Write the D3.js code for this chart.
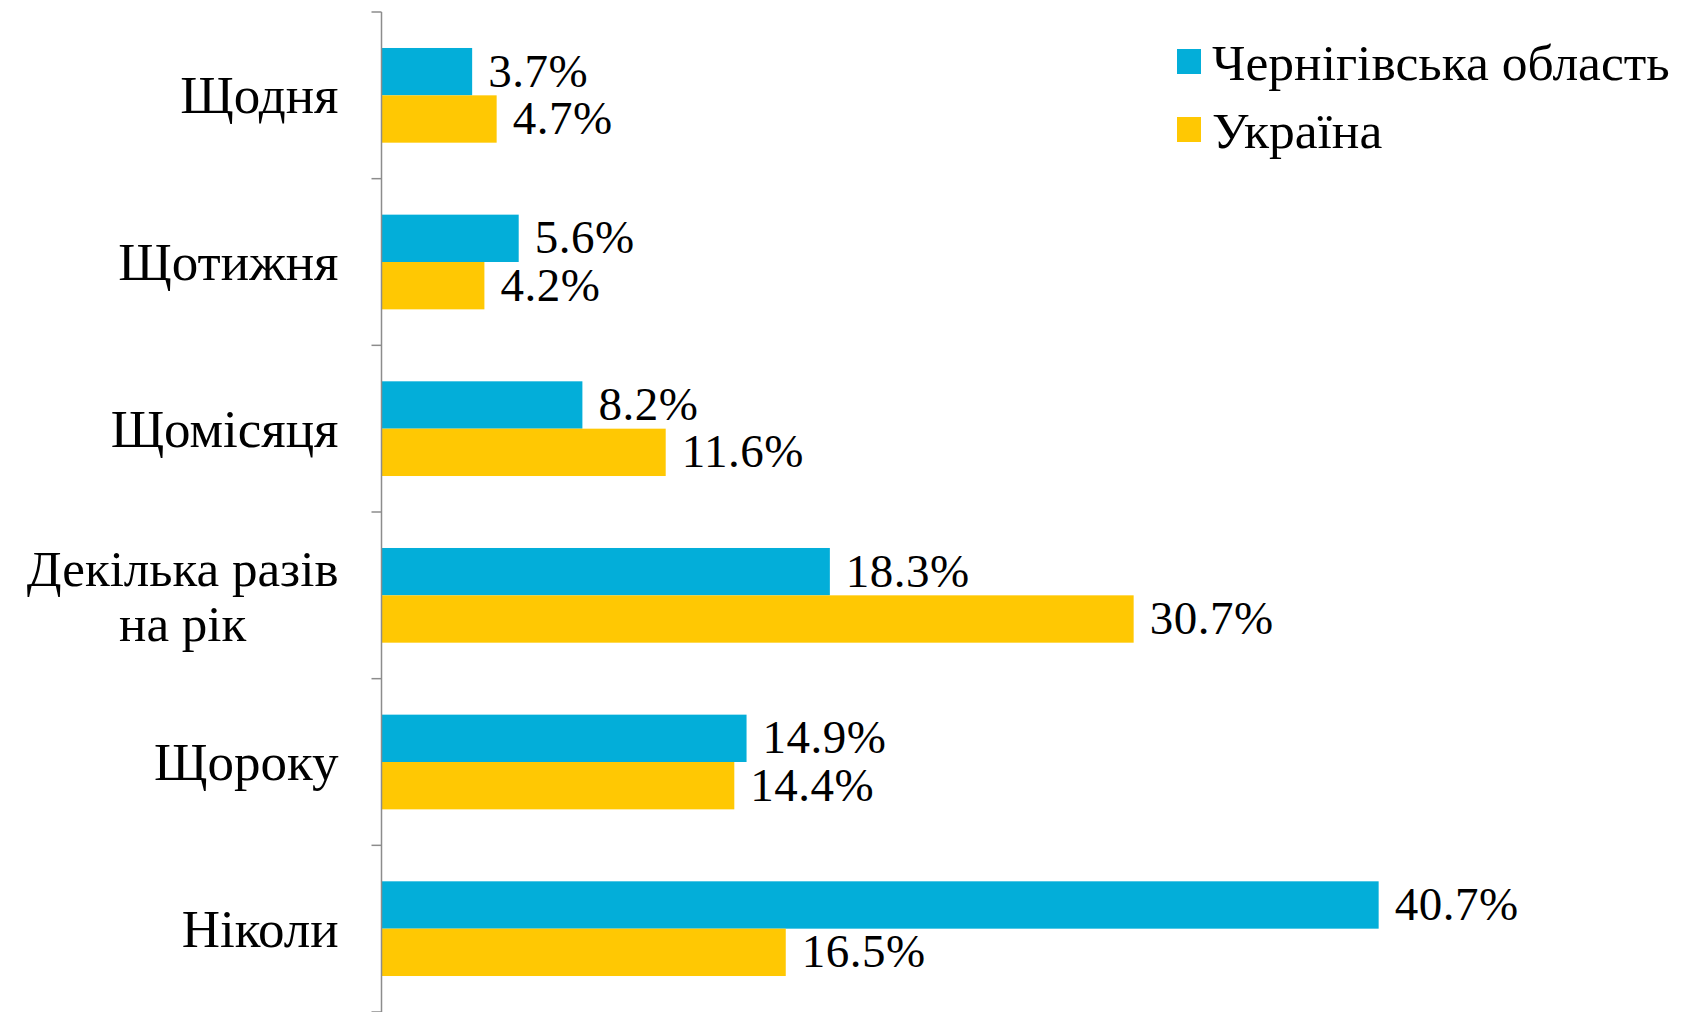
<!DOCTYPE html>
<html>
<head>
<meta charset="utf-8">
<script src="https://cdn.jsdelivr.net/npm/d3@7"></script>
<style>
  body { margin: 0; background: #fff; }
  text { font-family: "Liberation Serif", "DejaVu Serif", serif; fill: #000; }
</style>
</head>
<body>
<div id="chart"></div>
<script>
// categories (top to bottom), multi-line labels split by "|"
const categories = ["Щодня", "Щотижня", "Щомісяця", "Декілька разів|на рік", "Щороку", "Ніколи"];
const seriesNames = ["Чернігівська область", "Україна"];
const chernihiv = [3.7, 5.6, 8.2, 18.3, 14.9, 40.7];
const ukraine = [4.7, 4.2, 11.6, 30.7, 14.4, 16.5];
const colors = ["#03aed9", "#ffc803"];

const W = 1685, H = 1012;
const margin = { top: 12, left: 381.5, bottom: 0 };

const svg = d3.select("#chart")
  .append("svg")
  .attr("width", W)
  .attr("height", H);

const y = d3.scaleBand()
  .domain(categories)
  .range([margin.top, H - margin.bottom]);

const ySub = d3.scaleBand()
  .domain(seriesNames)
  .range([0, y.bandwidth()])
  .paddingOuter(0.76);

const x = d3.scaleLinear().domain([0, 45]).range([margin.left, margin.left + 45 * 24.5]);

const rows = categories.map((c, i) => ({ cat: c, vals: [chernihiv[i], ukraine[i]] }));

// bars
const groups = svg.selectAll("g.cat")
  .data(rows)
  .join("g")
  .attr("class", "cat")
  .attr("transform", d => `translate(0, ${y(d.cat)})`);

groups.selectAll("rect")
  .data(d => d.vals.map((v, j) => ({ s: seriesNames[j], v: v, j: j })))
  .join("rect")
  .attr("x", x(0))
  .attr("y", d => ySub(d.s))
  .attr("width", d => x(d.v) - x(0))
  .attr("height", ySub.bandwidth())
  .attr("fill", d => colors[d.j]);

// value labels
groups.selectAll("text.val")
  .data(d => d.vals.map((v, j) => ({ s: seriesNames[j], v: v, j: j })))
  .join("text")
  .attr("class", "val")
  .attr("x", d => x(d.v) + 16)
  .attr("y", d => ySub(d.s) + ySub.bandwidth() / 2 + 15)
  .style("font-size", "47px")
  .style("letter-spacing", "0.5px")
  .text(d => d.v.toFixed(1) + "%");

// axis line and ticks at band boundaries
const axisColor = "#8c8c8c";
svg.append("line")
  .attr("x1", x(0)).attr("x2", x(0))
  .attr("y1", y.range()[0]).attr("y2", y.range()[1])
  .attr("stroke", axisColor).attr("stroke-width", 1.5);

const bounds = categories.map(c => y(c)).concat([y.range()[1]]);
svg.selectAll("line.tick")
  .data(bounds)
  .join("line")
  .attr("class", "tick")
  .attr("x1", x(0) - 10).attr("x2", x(0))
  .attr("y1", d => d).attr("y2", d => d)
  .attr("stroke", axisColor).attr("stroke-width", 1.5);

// category labels (right-aligned block, lines centred in block)
const labelRight = x(0) - 43;
const lineH = 55;
categories.forEach(c => {
  const lines = c.split("|");
  const cy = y(c) + y.bandwidth() / 2;
  const fs = lines.length > 1 ? 51 : 53;
  const t = svg.append("text")
    .style("font-size", fs + "px")
    .attr("text-anchor", "middle");
  const spans = lines.map((ln, k) => t.append("tspan")
    .attr("y", cy + (k - (lines.length - 1) / 2) * lineH + 18)
    .text(ln));
  const maxW = d3.max(spans, s => s.node().getComputedTextLength());
  spans.forEach(s => s.attr("x", labelRight - maxW / 2));
});

// legend
const legend = svg.append("g").attr("transform", "translate(1177, 49)");
seriesNames.forEach((s, i) => {
  const lg = legend.append("g").attr("transform", `translate(0, ${i * 68})`);
  lg.append("rect").attr("width", 24).attr("height", 25).attr("fill", colors[i]);
  lg.append("text")
    .attr("x", 35).attr("y", 31)
    .style("font-size", "51.5px")
    .text(s);
});
</script>
</body>
</html>
